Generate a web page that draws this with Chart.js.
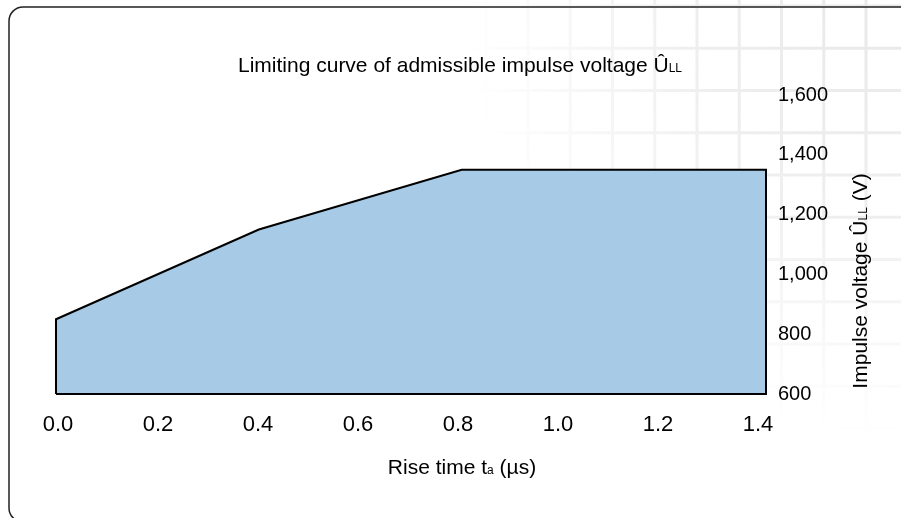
<!DOCTYPE html>
<html><head><meta charset="utf-8">
<script src="https://cdn.jsdelivr.net/npm/chart.js@4"></script>
<style>html,body{margin:0;padding:0;background:#fff}canvas{display:block}</style>
</head><body>
<canvas id="c" width="901" height="518"></canvas>
<script>
// Limiting curve (rise time in µs, voltage in V)
const riseTimes = [0, 0.4, 0.8, 1.4];
const voltages  = [850, 1150, 1350, 1350];
const yFloor = 600;
const xTickValues = [0.0, 0.2, 0.4, 0.6, 0.8, 1.0, 1.2, 1.4];
const yTickValues = [600, 800, 1000, 1200, 1400, 1600];

const FONT = "'Liberation Sans', Arial, sans-serif";

function drawRich(ctx, segs, x, y, align) {
  let total = 0;
  segs.forEach(s => { ctx.font = s.size + 'px ' + FONT; total += ctx.measureText(s.t).width; });
  let cx = align === 'center' ? x - total / 2 : x;
  ctx.textBaseline = 'alphabetic';
  ctx.textAlign = 'left';
  segs.forEach(s => {
    ctx.font = s.size + 'px ' + FONT;
    ctx.fillText(s.t, cx, y + (s.dy || 0));
    cx += ctx.measureText(s.t).width;
  });
}

const decor = {
  id: 'decor',
  beforeDraw(chart) {
    const ctx = chart.ctx, W = chart.width, H = chart.height;
    ctx.save();
    ctx.fillStyle = '#fff';
    ctx.fillRect(0, 0, W, H);
    const off = document.createElement('canvas');
    off.width = W; off.height = H;
    const o = off.getContext('2d');
    o.strokeStyle = 'rgb(232,232,232)';
    o.lineWidth = 3;
    const step = 42.25;
    for (let x = 697 - step * 20; x < W + 5; x += step) {
      o.beginPath(); o.moveTo(x, 0); o.lineTo(x, H); o.stroke();
    }
    for (let y = 6; y < H + 5; y += step) {
      o.beginPath(); o.moveTo(0, y); o.lineTo(W, y); o.stroke();
    }
    o.globalCompositeOperation = 'destination-in';
    const g = o.createRadialGradient(W, 0, 0, W, 0, 440);
    g.addColorStop(0, 'rgba(0,0,0,1)');
    g.addColorStop(0.5, 'rgba(0,0,0,0.7)');
    g.addColorStop(1, 'rgba(0,0,0,0)');
    o.fillStyle = g;
    o.fillRect(0, 0, W, H);
    ctx.drawImage(off, 0, 0);
    ctx.strokeStyle = '#222';
    ctx.lineWidth = 1.5;
    ctx.beginPath();
    const l = 9, t = 7, r = 14, b = 522;
    ctx.moveTo(W + 10, t);
    ctx.lineTo(l + r, t);
    ctx.arcTo(l, t, l, t + r, r);
    ctx.lineTo(l, b - r);
    ctx.arcTo(l, b, l + r, b, r);
    ctx.lineTo(W + 10, b);
    ctx.stroke();
    ctx.restore();
  },
  afterDraw(chart) {
    const ctx = chart.ctx;
    ctx.save();
    ctx.fillStyle = '#000';
    drawRich(ctx, [
      { t: 'Limiting curve of admissible impulse voltage Û', size: 21 },
      { t: 'LL', size: 12 }
    ], 238, 72, 'left');
    drawRich(ctx, [
      { t: 'Rise time t', size: 21 },
      { t: 'a', size: 12 },
      { t: ' (µs)', size: 21 }
    ], 462, 474, 'center');
    ctx.translate(867, 281);
    ctx.rotate(-Math.PI / 2);
    drawRich(ctx, [
      { t: 'Impulse voltage Û', size: 21 },
      { t: 'LL', size: 12 },
      { t: ' (V)', size: 21 }
    ], 0, 0, 'center');
    ctx.restore();
  }
};

const curve = riseTimes.map((x, i) => ({ x: x, y: voltages[i] }));
const outline = [{ x: riseTimes[0], y: yFloor }]
  .concat(curve)
  .concat([{ x: riseTimes[riseTimes.length - 1], y: yFloor }, { x: riseTimes[0], y: yFloor }]);

new Chart(document.getElementById('c'), {
  type: 'scatter',
  data: {
    datasets: [{
      data: curve,
      showLine: true,
      fill: 'start',
      backgroundColor: 'rgb(167,203,231)',
      borderWidth: 0,
      borderColor: 'rgba(0,0,0,0)',
      pointRadius: 0,
      tension: 0,
      order: 2
    }, {
      data: outline,
      showLine: true,
      fill: false,
      borderColor: '#000',
      borderWidth: 2,
      pointRadius: 0,
      tension: 0,
      clip: 4,
      order: 1
    }]
  },
  plugins: [decor],
  options: {
    responsive: false,
    devicePixelRatio: 1,
    animation: false,
    layout: { padding: { top: 95, left: 56, right: 0, bottom: 0 } },
    plugins: { legend: { display: false }, tooltip: { enabled: false }, title: { display: false } },
    scales: {
      x: {
        type: 'linear', min: 0, max: 1.4,
        display: false
      },
      xLabels: {
        type: 'linear', position: 'bottom', min: -0.004, max: 1.416,
        grid: { display: false, drawTicks: false },
        border: { display: false },
        afterBuildTicks: s => { s.ticks = xTickValues.map(v => ({ value: v })); },
        afterFit: s => { s.height = 124; },
        ticks: {
          padding: 18, color: '#000', maxRotation: 0, autoSkip: false,
          font: { family: FONT, size: 22 },
          callback: v => Number(v).toFixed(1)
        }
      },
      y: {
        type: 'linear', position: 'right', min: 600, max: 1600,
        grid: { display: false, drawTicks: false },
        border: { display: false },
        afterBuildTicks: s => { s.ticks = yTickValues.map(v => ({ value: v })); },
        afterFit: s => { s.width = 135; },
        ticks: {
          padding: 12, color: '#000',
          font: { family: FONT, size: 20 },
          callback: v => Number(v).toLocaleString('en-US')
        }
      }
    }
  }
});
</script>
</body></html>
